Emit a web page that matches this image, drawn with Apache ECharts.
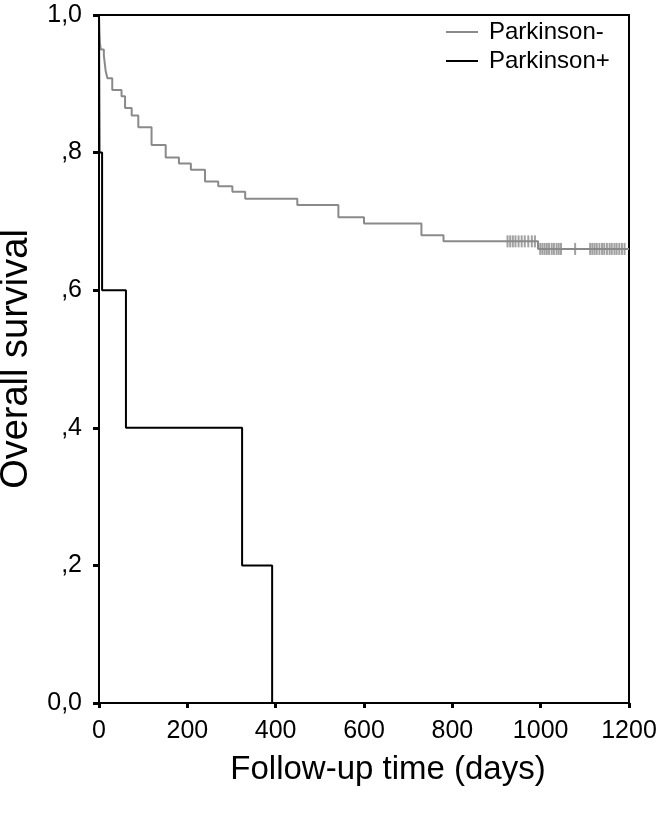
<!DOCTYPE html>
<html>
<head>
<meta charset="utf-8">
<script src="https://cdn.jsdelivr.net/npm/echarts@6/dist/echarts.min.js"></script>
<style>html,body{margin:0;padding:0;background:#fff;}#c{width:660px;height:813px;}</style>
</head>
<body>
<div id="c"></div>
<script>
// Parkinson- (gray) Kaplan-Meier steps: time in days, survival from that time on
const grayTimes = [0, 1, 2, 4, 11, 15, 19, 30, 51, 59, 74, 89, 119, 151, 181, 208, 240, 270, 302, 331, 449, 542, 600, 730, 780, 994, 1200];
const graySurv  = [1.0, 0.975, 0.96, 0.95, 0.941, 0.919, 0.908, 0.891, 0.882, 0.865, 0.854, 0.837, 0.811, 0.793, 0.784, 0.775, 0.758, 0.751, 0.743, 0.733, 0.724, 0.706, 0.697, 0.680, 0.671, 0.660, 0.660];
// Parkinson+ (black)
const blackTimes = [0, 1, 7, 61, 324, 392];
const blackSurv  = [1.0, 0.8, 0.6, 0.4, 0.2, 0.0];
// censored observations (Parkinson-)
const censorTimesA = [925, 931, 937, 943, 950, 957, 964, 972, 980, 987];
const censorSurvA = 0.671;
const censorTimesB = [999, 1004, 1009, 1014, 1019, 1025, 1030, 1036, 1041, 1046, 1078, 1112, 1117, 1122, 1127, 1133, 1139, 1144, 1150, 1156, 1161, 1167, 1172, 1178, 1184, 1190];
const censorSurvB = 0.660;
const xTicks = [0, 200, 400, 600, 800, 1000, 1200];
const seriesNames = ['Parkinson-', 'Parkinson+'];

const grayData = grayTimes.map((t, i) => [t, graySurv[i]]);
const blackData = blackTimes.map((t, i) => [t, blackSurv[i]]);
const censorData = censorTimesA.map(t => [t, censorSurvA]).concat(censorTimesB.map(t => [t, censorSurvB]));

const FONT = 'Liberation Sans, Arial, sans-serif';
const GRAY = '#8a8a8a';
const chart = echarts.init(document.getElementById('c'), null, {renderer: 'canvas'});
chart.setOption({
  animation: false,
  backgroundColor: '#ffffff',
  grid: {left: 99, right: 31, top: 15, bottom: 110, show: true, borderColor: '#000', borderWidth: 2,
         backgroundColor: 'transparent', containLabel: false, outerBoundsMode: 'none'},
  legend: {
    data: seriesNames,
    orient: 'vertical',
    left: 441, top: 15,
    itemWidth: 32, itemHeight: 2, itemGap: 5,
    icon: 'rect',
    textStyle: {fontFamily: FONT, fontSize: 24, color: '#000', padding: [0,0,0,6]}
  },
  xAxis: {
    type: 'value', min: xTicks[0], max: xTicks[xTicks.length-1], interval: 200,
    name: 'Follow-up time (days)', nameLocation: 'middle', nameGap: 50,
    nameTextStyle: {fontFamily: FONT, fontSize: 33, color: '#000', padding: [0,0,0,48]},
    axisLine: {show: true, onZero: false, lineStyle: {color: '#000', width: 2}},
    axisTick: {show: true, length: 5, lineStyle: {color: '#000', width: 3}},
    axisLabel: {fontFamily: FONT, fontSize: 25, color: '#000', margin: 16, formatter: v => String(v)},
    splitLine: {show: false}
  },
  yAxis: {
    type: 'value', min: 0, max: 1, interval: 0.2,
    name: 'Overall survival', nameLocation: 'middle', nameGap: 63,
    nameTextStyle: {fontFamily: FONT, fontSize: 38, color: '#000'},
    axisLine: {show: true, onZero: false, lineStyle: {color: '#000', width: 2}},
    axisTick: {show: true, length: 6, lineStyle: {color: '#000', width: 3}},
    axisLabel: {fontFamily: FONT, fontSize: 25, color: '#000', margin: 17,
      formatter: v => { const k = Math.round(v * 10); return k === 0 ? '0,0' : (k === 10 ? '1,0' : ',' + k); }},
    splitLine: {show: false}
  },
  series: [
    {name: seriesNames[0], type: 'line', step: 'end', data: grayData, symbol: 'none', showSymbol: false,
     lineStyle: {color: GRAY, width: 2}, itemStyle: {color: GRAY}, z: 3},
    {name: seriesNames[1], type: 'line', step: 'end', data: blackData, symbol: 'none', showSymbol: false,
     lineStyle: {color: '#000', width: 2}, itemStyle: {color: '#000'}, z: 4},
    {name: 'censored', type: 'scatter', data: censorData, symbol: 'rect', symbolSize: [2, 12],
     itemStyle: {color: GRAY}, z: 3}
  ]
});
</script>
</body>
</html>
